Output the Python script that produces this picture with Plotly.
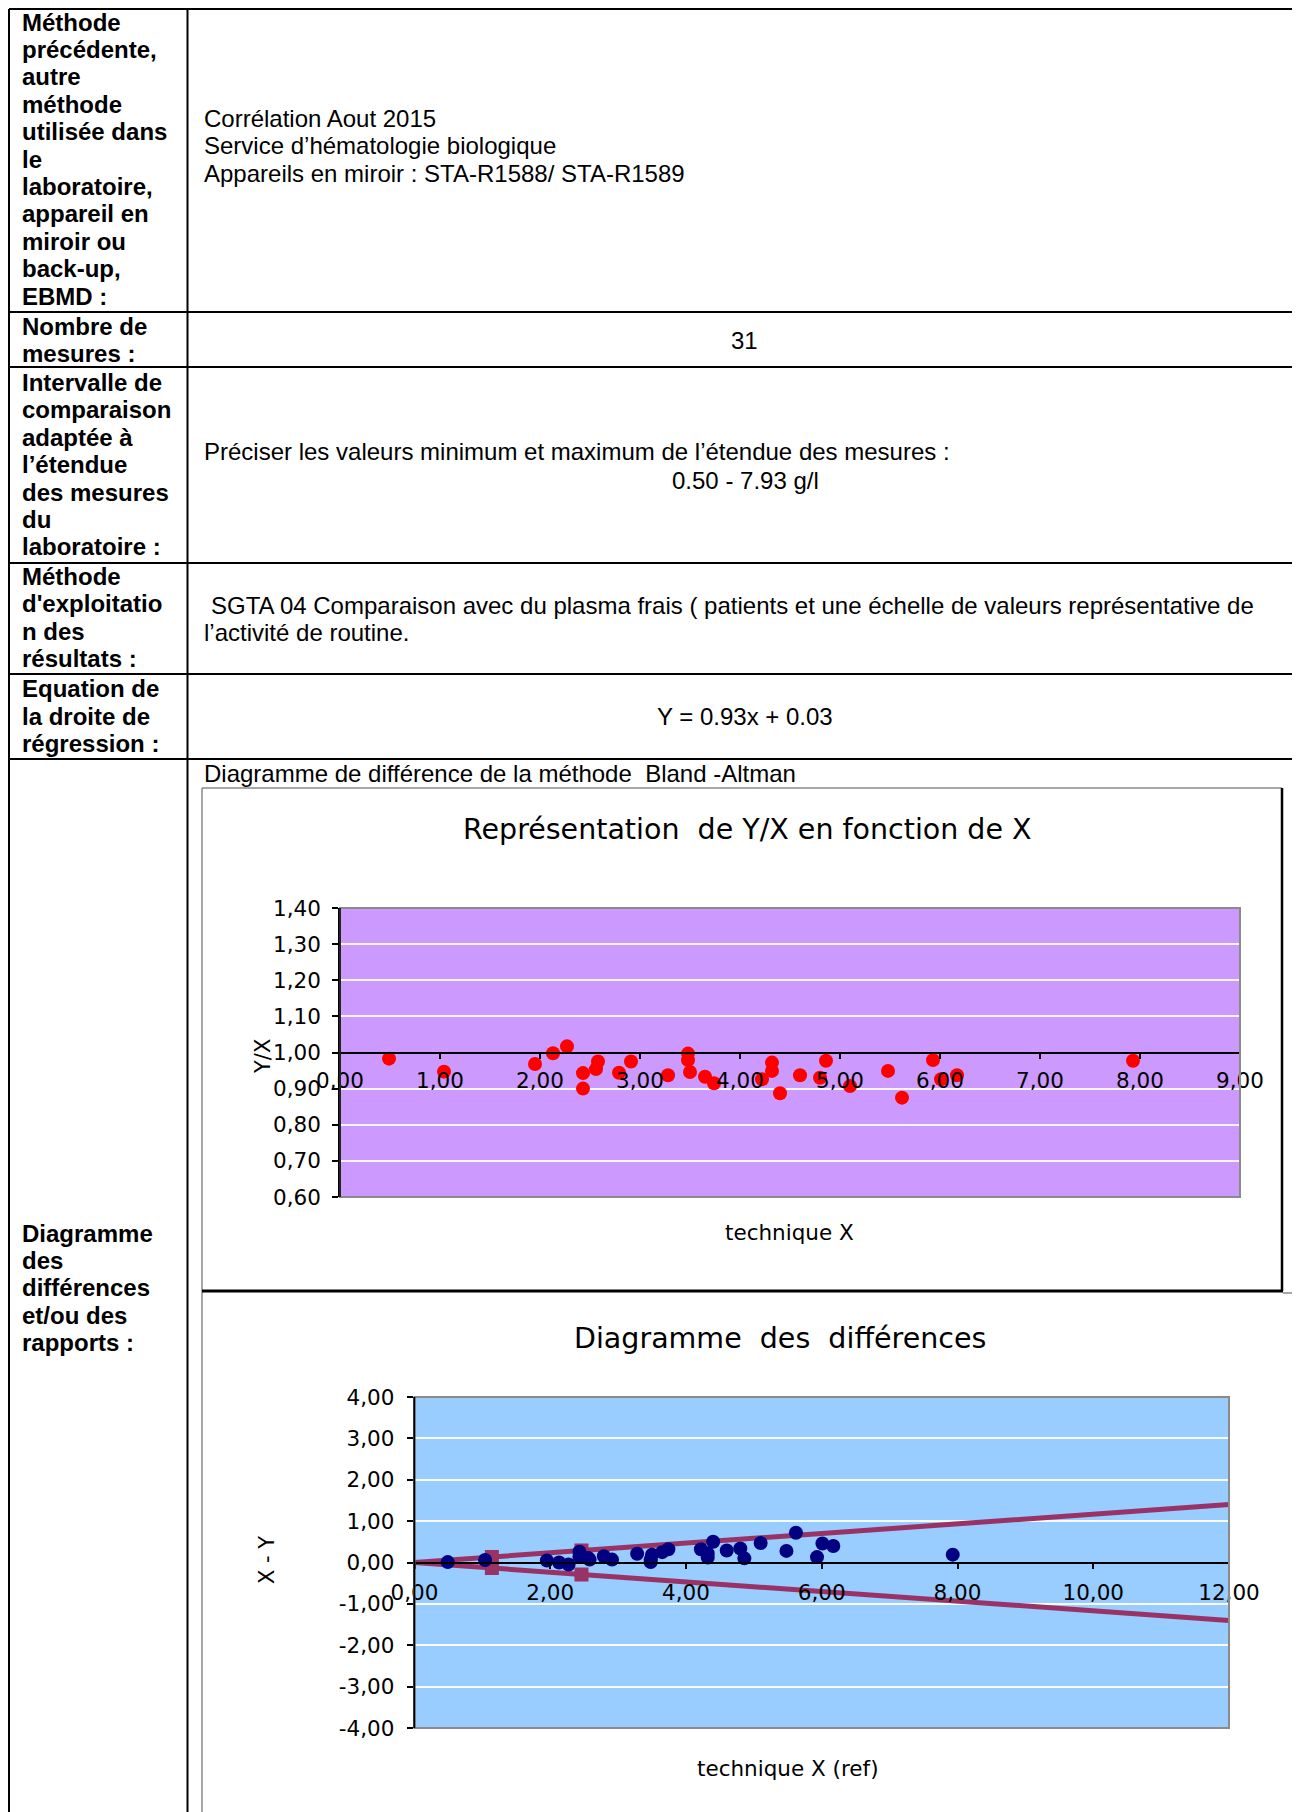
import plotly.graph_objects as go

# ---------------- data ----------------
TECH_X = [0.49, 1.04, 1.95, 2.13, 2.27, 2.43, 2.43, 2.56, 2.58, 2.79, 2.91,
          3.28, 3.48, 3.48, 3.50, 3.65, 3.74, 4.22, 4.32, 4.32, 4.40, 4.60,
          4.80, 4.86, 5.10, 5.48, 5.62, 5.93, 6.01, 6.17, 7.93]
RATIO_YX = [0.983, 0.947, 0.968, 0.998, 1.017, 0.943, 0.900, 0.954, 0.975, 0.944, 0.975,
            0.937, 0.997, 0.979, 0.946, 0.933, 0.915, 0.926, 0.972, 0.949, 0.887, 0.937,
            0.930, 0.977, 0.907, 0.949, 0.875, 0.979, 0.926, 0.937, 0.977]
DIFF_XY = [0.01, 0.06, 0.05, 0.00, -0.05, 0.14, 0.26, 0.11, 0.07, 0.15, 0.07,
           0.21, 0.01, 0.07, 0.19, 0.25, 0.32, 0.32, 0.12, 0.22, 0.50, 0.29,
           0.34, 0.10, 0.47, 0.28, 0.72, 0.13, 0.46, 0.40, 0.19]
LIMIT_X = [0.0, 1.14, 2.46, 12.0]
LIMIT_UP = [0.0, 0.13, 0.29, 1.40]
LIMIT_LOW = [0.0, -0.13, -0.29, -1.40]

RATIO_XTICKS = [0, 1, 2, 3, 4, 5, 6, 7, 8, 9]
RATIO_YTICKS = [0.6, 0.7, 0.8, 0.9, 1.0, 1.1, 1.2, 1.3, 1.4]
DIFF_XTICKS = [0, 2, 4, 6, 8, 10, 12]
DIFF_YTICKS = [-4, -3, -2, -1, 0, 1, 2, 3, 4]

# table texts
LEFT_CELLS = [
    (["Méthode", "précédente,", "autre", "méthode", "utilisée dans", "le",
      "laboratoire,", "appareil en", "miroir ou", "back-up,", "EBMD :"], 22),
    (["Nombre de", "mesures :"], 326),
    (["Intervalle de", "comparaison", "adaptée à", "l’étendue", "des mesures",
      "du", "laboratoire :"], 382.5),
    (["Méthode", "d'exploitatio", "n des", "résultats :"], 576.6),
    (["Equation de", "la droite de", "régression :"], 688.7),
    (["Diagramme", "des", "différences", "et/ou des", "rapports :"], 1233),
]
RIGHT_LEFTALIGNED = [
    ("Corrélation Aout 2015", 202, 118),
    ("Service d’hématologie biologique", 202, 145.6),
    ("Appareils en miroir : STA-R1588/ STA-R1589", 202, 173.3),
    ("Préciser les valeurs minimum et maximum de l’étendue des mesures :", 202, 452),
    ("SGTA 04 Comparaison avec du plasma frais ( patients et une échelle de valeurs représentative de", 209, 605.5),
    ("l’activité de routine.", 202, 632),
    ("Diagramme de différence de la méthode  Bland -Altman", 202, 773),
]
RIGHT_CENTERED = [
    ("31", 744, 340),
    ("0.50 - 7.93 g/l", 745, 480),
    ("Y = 0.93x + 0.03", 745, 716.5),
]

# ---------------- helpers ----------------
PAGE_W, PAGE_H = 1300, 1812
OFF = 8                      # default body margin of the html page
W, H = PAGE_W - OFF, PAGE_H - OFF


def px(x):
    return (x - OFF) / W


def py(y):
    return 1 - (y - OFF) / H


def fmt(v):
    return f"{v:.2f}".replace(".", ",")


TXT_FONT = "Liberation Sans, Arial, sans-serif"
CH_FONT = "DejaVu Sans, Verdana, sans-serif"
TXT_SIZE = 24
LINE_H = 27.4

fig = go.Figure()

# chart 1 : Y/X
fig.add_trace(go.Scatter(x=TECH_X, y=RATIO_YX, mode="markers",
                         marker=dict(color="#FF0000", size=14, line=dict(width=0)),
                         xaxis="x", yaxis="y", showlegend=False))
# chart 2 : differences
for lim in (LIMIT_UP, LIMIT_LOW):
    fig.add_trace(go.Scatter(x=LIMIT_X, y=lim, mode="lines+markers",
                             line=dict(color="#993366", width=5),
                             marker=dict(symbol="square", size=[0, 14, 14, 0],
                                         color="#993366", opacity=1,
                                         line=dict(width=0)),
                             xaxis="x2", yaxis="y2", showlegend=False))
fig.add_trace(go.Scatter(x=TECH_X, y=DIFF_XY, mode="markers",
                         marker=dict(color="#000080", size=14, line=dict(width=0)),
                         xaxis="x2", yaxis="y2", showlegend=False))

tickfont = dict(family=CH_FONT, size=21.5, color="#000")

c1 = dict(l=340, r=1240, t=908, b=1197, axis_y=1052.5)
c2 = dict(l=414.5, r=1229, t=1397, b=1728, axis_y=1562.5)

common = dict(showline=True, linecolor="#000", linewidth=1.5,
              ticks="outside", ticklen=6, tickcolor="#000", tickwidth=1.5,
              zeroline=False, tickfont=tickfont, automargin=False)

fig.update_layout(
    template="none",
    width=W, height=H, autosize=False,
    margin=dict(l=0, r=0, t=0, b=0, pad=0, autoexpand=False),
    paper_bgcolor="white", plot_bgcolor="rgba(0,0,0,0)",
    separators=", ",
    showlegend=False,
    xaxis=dict(domain=[px(c1["l"]), px(c1["r"])], range=[0, 9],
               tickvals=RATIO_XTICKS, ticktext=[fmt(v) for v in RATIO_XTICKS],
               anchor="free", position=py(c1["axis_y"]),
               showgrid=False, ticklabelstandoff=3, **common),
    yaxis=dict(domain=[py(c1["b"]), py(c1["t"])], range=[0.6, 1.4],
               tickvals=RATIO_YTICKS, ticktext=[fmt(v) for v in RATIO_YTICKS],
               anchor="x", showgrid=True, gridcolor="rgba(255,255,255,0.9)",
               gridwidth=1.5, ticklabelstandoff=7, **common),
    xaxis2=dict(domain=[px(c2["l"]), px(c2["r"])], range=[0, 12],
                tickvals=DIFF_XTICKS, ticktext=[fmt(v) for v in DIFF_XTICKS],
                anchor="free", position=py(c2["axis_y"]),
                showgrid=False, ticklabelstandoff=5, **common),
    yaxis2=dict(domain=[py(c2["b"]), py(c2["t"])], range=[-4, 4],
                tickvals=DIFF_YTICKS, ticktext=[fmt(v) for v in DIFF_YTICKS],
                anchor="x2", showgrid=True, gridcolor="rgba(255,255,255,0.95)",
                gridwidth=1.5, ticklabelstandoff=8, **common),
)

shapes = []
# plot backgrounds
shapes.append(dict(type="rect", xref="x domain", yref="y domain", x0=0, x1=1, y0=0, y1=1,
                   fillcolor="#CC99FF", line=dict(width=0), layer="below"))
shapes.append(dict(type="rect", xref="x2 domain", yref="y2 domain", x0=0, x1=1, y0=0, y1=1,
                   fillcolor="#99CCFF", line=dict(width=0), layer="below"))
# plot borders (gray) + black left axis
for xr, yr in (("x domain", "y domain"), ("x2 domain", "y2 domain")):
    shapes.append(dict(type="rect", xref=xr, yref=yr, x0=0, x1=1, y0=0, y1=1,
                       line=dict(color="#8a8a8a", width=2), layer="above"))
    shapes.append(dict(type="line", xref=xr, yref=yr, x0=0, x1=0, y0=0, y1=1,
                       line=dict(color="#000", width=1.5), layer="above"))


def pline(x0, y0, x1, y1, color="#000", width=2):
    shapes.append(dict(type="line", xref="paper", yref="paper",
                       x0=px(x0), y0=py(y0), x1=px(x1), y1=py(y1),
                       line=dict(color=color, width=width), layer="above"))


# table grid (outer left/top border sits at the page edge)
pline(9, 9, 9, PAGE_H)
pline(187.5, 9, 187.5, PAGE_H)
pline(9, 9, PAGE_W, 9)
for yy in (312, 367, 563, 674, 759):
    pline(9, yy, PAGE_W, yy)

# chart frames
pline(202, 788, 1282, 788, "#8a8a8a", 1.5)
pline(202, 788, 202, PAGE_H, "#8a8a8a", 1.5)
pline(1282, 788, 1282, 1291, "#000", 2.5)
pline(202, 1291, 1283, 1291, "#000", 3)
pline(1283, 1293, PAGE_W, 1293, "#8a8a8a", 1.5)

fig.update_layout(shapes=shapes)

ann = []
for lines, y0 in LEFT_CELLS:
    for i, t in enumerate(lines):
        ann.append(dict(x=px(20), y=py(y0 + i * LINE_H), xref="paper", yref="paper",
                        text=f"<b>{t}</b>", showarrow=False, xanchor="left", yanchor="middle",
                        font=dict(family=TXT_FONT, size=TXT_SIZE, color="#000")))
for t, x, y in RIGHT_LEFTALIGNED:
    ann.append(dict(x=px(x), y=py(y), xref="paper", yref="paper", text=t,
                    showarrow=False, xanchor="left", yanchor="middle",
                    font=dict(family=TXT_FONT, size=TXT_SIZE, color="#000")))
for t, x, y in RIGHT_CENTERED:
    ann.append(dict(x=px(x), y=py(y), xref="paper", yref="paper", text=t,
                    showarrow=False, xanchor="center", yanchor="middle",
                    font=dict(family=TXT_FONT, size=TXT_SIZE, color="#000")))

# chart titles and axis titles
ch_ann = [
    ("Représentation  de Y/X en fonction de X", 747, 830, 28.5, 0),
    ("technique X", 789, 1232, 21.5, 0),
    ("Y/X", 263, 1057, 21, -90),
    ("Diagramme  des  différences", 780, 1338, 28.5, 0),
    ("technique X (ref)", 788, 1768, 21.5, 0),
    ("X - Y", 267, 1560, 21, -90),
]
for t, x, y, s, ang in ch_ann:
    ann.append(dict(x=px(x), y=py(y), xref="paper", yref="paper", text=t,
                    showarrow=False, xanchor="center", yanchor="middle", textangle=ang,
                    font=dict(family=CH_FONT, size=s, color="#000")))

fig.update_layout(annotations=ann)

fig.write_html("out.html")
